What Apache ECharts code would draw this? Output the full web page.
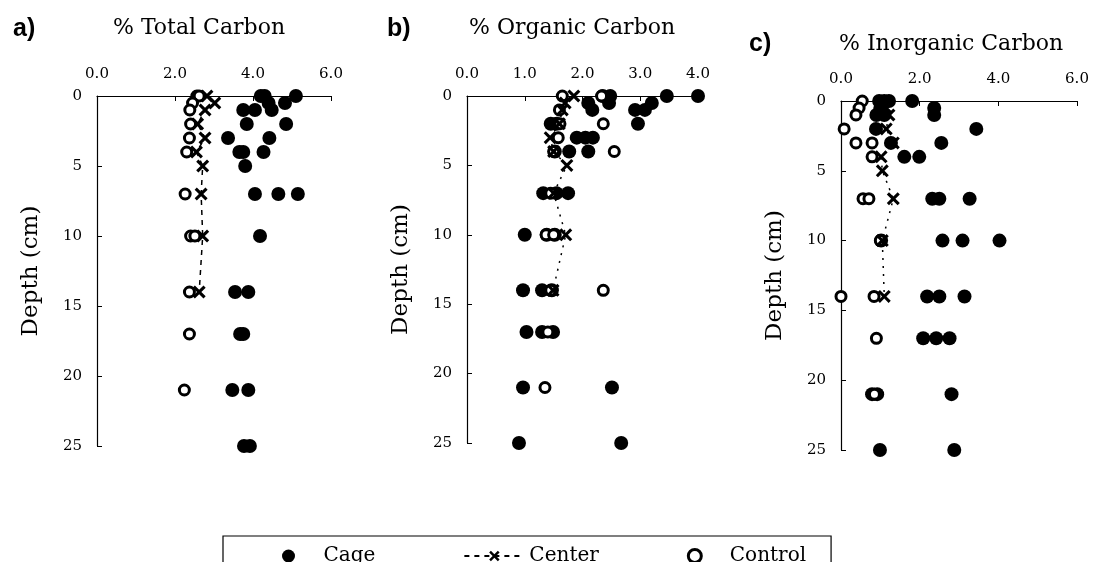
<!DOCTYPE html>
<html>
<head>
<meta charset="utf-8">
<script src="https://cdn.jsdelivr.net/npm/echarts@6/dist/echarts.min.js"></script>
<style>
  html, body { margin: 0; padding: 0; background: #fff; }
  #chart { width: 1096px; height: 562px; }
</style>
</head>
<body>
<div id="chart"></div>
<script>
// [value %, depth cm]
var totalCage = [[4.2,0],[4.3,0],[5.1,0],[4.4,0.5],[4.82,0.5],[3.75,1],[4.05,1],[4.48,1],[3.84,2],[4.85,2],
    [3.36,3],[4.42,3],[3.65,4],[3.75,4],[4.27,4],[3.8,5],[4.05,7],[4.65,7],[5.15,7],[4.18,10],
    [3.54,14],[3.88,14],[3.67,17],[3.75,17],[3.47,21],[3.88,21],[3.77,25],[3.92,25]];
var totalCenter = [[2.82,0],[3.02,0.5],[2.77,1],[2.58,2],[2.77,3],[2.55,4],[2.71,5],[2.67,7],[2.71,10],[2.62,14]];
var totalControl = [[2.56,0],[2.62,0],[2.45,0.5],[2.38,1],[2.4,2],[2.37,3],[2.3,4],[2.26,7],[2.4,10],[2.51,10],
    [2.37,14],[2.37,17],[2.24,21]];

var orgCage = [[4.0,0],[3.46,0],[2.48,0],[2.35,0],[2.1,0.5],[2.46,0.5],[3.2,0.5],[2.17,1],[2.91,1],[3.08,1],
    [1.45,2],[1.55,2],[2.96,2],[1.9,3],[2.05,3],[2.18,3],[1.52,4],[1.77,4],[2.1,4],[1.32,7],[1.55,7],[1.75,7],
    [1.0,10],[1.38,10],[1.52,10],[0.97,14],[1.3,14],[1.47,14],[1.03,17],[1.3,17],[1.49,17],
    [0.97,21],[2.51,21],[0.9,25],[2.67,25]];
var orgCenter = [[1.85,0],[1.7,0.5],[1.65,1],[1.6,2],[1.44,3],[1.5,4],[1.73,5],[1.5,7],[1.71,10],[1.49,14]];
var orgControl = [[1.65,0],[2.33,0],[1.6,1],[1.61,2],[2.36,2],[1.58,3],[1.5,4],[2.55,4],[1.45,7],[1.37,10],
    [1.5,10],[1.45,14],[2.36,14],[1.4,17],[1.35,21]];

var inorgCage = [[0.97,0],[1.1,0],[1.22,0],[1.81,0],[2.37,0.5],[1.0,0.5],[2.37,1],[0.9,1],[1.1,1],[0.89,2],
    [3.44,2],[1.27,3],[2.55,3],[1.61,4],[1.99,4],[2.32,7],[2.5,7],[3.27,7],[1.02,10],[2.58,10],[3.09,10],
    [4.03,10],[2.19,14],[2.5,14],[3.14,14],[2.09,17],[2.42,17],[2.76,17],[0.79,21],[0.92,21],[2.81,21],
    [0.99,25],[2.88,25]];
var inorgCenter = [[1.1,0],[1.15,0.5],[1.22,1],[1.15,2],[1.33,3],[1.02,4],[1.05,5],[1.33,7],[1.05,10],[1.1,14]];
var inorgControl = [[0.54,0],[0.46,0.5],[0.38,1],[0.08,2],[0.38,3],[0.79,3],[0.79,4],[0.56,7],[0.71,7],
    [1.0,10],[0.0,14],[0.84,14],[0.9,17],[0.85,21]];

var panelLetters = ['a)', 'b)', 'c)'];
var panelTitles = ['% Total Carbon', '% Organic Carbon', '% Inorganic Carbon'];
var xMax = [6, 4, 6];
var xStep = [2, 1, 2];

var serif = '"DejaVu Serif", serif';
var crossPath = 'path://M0,2L2,0L6,4L10,0L12,2L8,6L12,10L10,12L6,8L2,12L0,10L4,6Z';

var grids = [
    {left: 97, top: 96, width: 234, height: 350},
    {left: 467, top: 96, width: 231, height: 347},
    {left: 841, top: 101, width: 236, height: 349}
];
var titleTops = [[12, 12], [12, 12], [27, 28]];
var letterLeft = [8, 382, 744];
var titleLeft = [108, 464, 834];
var dashes = [[5, 5], [2, 6], [2, 6]];
var datasets = [
    [totalCage, totalCenter, totalControl],
    [orgCage, orgCenter, orgControl],
    [inorgCage, inorgCenter, inorgControl]
];

var titles = [], xAxes = [], yAxes = [], series = [];
for (let i = 0; i < 3; i++) {
    titles.push({
        text: panelLetters[i], left: letterLeft[i], top: titleTops[i][0],
        textStyle: {fontFamily: '"Liberation Sans", Arial, sans-serif', fontWeight: 'bold', fontSize: 25, color: '#000'}
    });
    titles.push({
        text: panelTitles[i], left: titleLeft[i], top: titleTops[i][1],
        textStyle: {fontFamily: serif, fontWeight: 'normal', fontSize: 22, color: '#000'}
    });
    xAxes.push({
        type: 'value', gridIndex: i, position: 'top', min: 0, max: xMax[i], interval: xStep[i],
        axisLine: {show: true, lineStyle: {color: '#000', width: 1.2}},
        axisTick: {show: true, inside: true, length: 5, lineStyle: {color: '#000'}},
        axisLabel: {margin: 14, color: '#000', fontFamily: serif, fontSize: 15,
            formatter: function (v) { return v.toFixed(1); }},
        splitLine: {show: false}
    });
    yAxes.push({
        type: 'value', gridIndex: i, inverse: true, min: 0, max: 25, interval: 5,
        name: 'Depth (cm)', nameLocation: 'middle', nameGap: 54,
        nameTextStyle: {fontFamily: serif, fontSize: 23, color: '#000'},
        axisLine: {show: true, lineStyle: {color: '#000', width: 1.2}},
        axisTick: {show: true, inside: true, length: 5, lineStyle: {color: '#000'}},
        axisLabel: {margin: 15, color: '#000', fontFamily: serif, fontSize: 15},
        splitLine: {show: false}
    });
    series.push({
        name: 'Cage', type: 'scatter', xAxisIndex: i, yAxisIndex: i,
        symbol: 'circle', symbolSize: 14,
        itemStyle: {color: '#000', opacity: 1},
        data: datasets[i][0]
    });
    series.push({
        name: 'Control', type: 'scatter', xAxisIndex: i, yAxisIndex: i,
        symbol: 'circle', symbolSize: 10,
        itemStyle: {color: '#fff', borderColor: '#000', borderWidth: 3, opacity: 1},
        data: datasets[i][2]
    });
    series.push({
        name: 'Center', type: 'line', xAxisIndex: i, yAxisIndex: i,
        symbol: crossPath, symbolSize: 13, showSymbol: true,
        itemStyle: {color: '#000'},
        lineStyle: {color: '#000', width: 1.5, type: dashes[i]},
        z: 3,
        data: datasets[i][1]
    });
}

var myChart = echarts.init(document.getElementById('chart'));
var option = {
    animation: false,
    backgroundColor: '#fff',
    title: titles,
    grid: grids,
    xAxis: xAxes,
    yAxis: yAxes,
    legend: {
        data: [
            {name: 'Cage'},
            {name: 'Center'},
            {name: 'Control', itemStyle: {borderWidth: 3}}
        ],
        left: 223, top: 536,
        orient: 'horizontal',
        itemWidth: 60, itemHeight: 13, itemGap: 88,
        padding: [10, 25, 12, 59],
        borderColor: '#000', borderWidth: 1.2,
        textStyle: {fontFamily: serif, fontSize: 20, color: '#000'}
    },
    series: series
};
myChart.setOption(option);
</script>
</body>
</html>
